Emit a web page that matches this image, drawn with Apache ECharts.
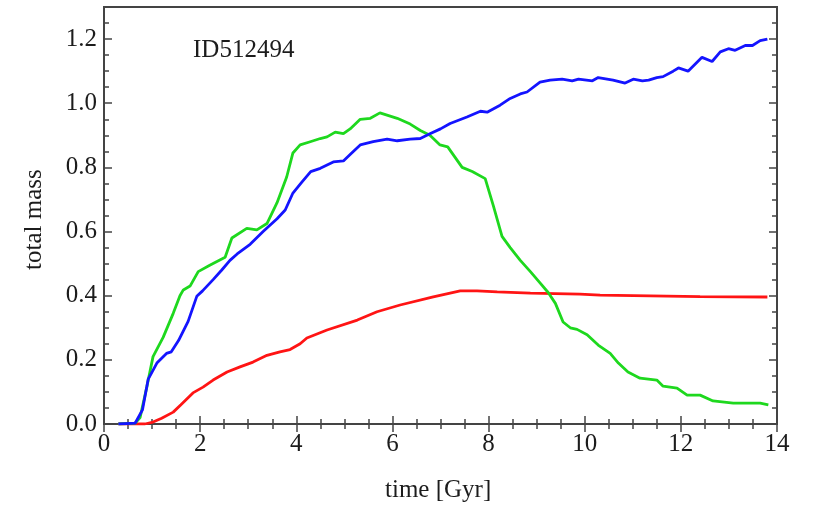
<!DOCTYPE html>
<html>
<head>
<meta charset="utf-8">
<script src="https://cdn.jsdelivr.net/npm/echarts@6/dist/echarts.min.js"></script>
<style>html,body{margin:0;padding:0;background:#fff}#c{width:818px;height:515px}</style>
</head>
<body>
<div id="c"></div>
<script>
// ---- data ----
const blueTime = [0.3,0.65,0.8,0.92,1.1,1.3,1.4,1.55,1.75,1.93,2.05,2.27,2.45,2.62,2.77,3.04,3.31,3.6,3.77,3.93,4.12,4.3,4.5,4.77,4.98,5.12,5.33,5.6,5.89,6.1,6.37,6.58,6.78,7.0,7.2,7.55,7.83,7.97,8.24,8.45,8.66,8.8,9.07,9.28,9.53,9.74,9.87,10.16,10.28,10.59,10.84,11.01,11.2,11.33,11.5,11.63,11.84,11.95,12.15,12.44,12.65,12.82,12.99,13.13,13.34,13.49,13.65,13.8];
const blueMass = [0,0.003,0.044,0.14,0.19,0.22,0.225,0.26,0.32,0.398,0.415,0.45,0.48,0.51,0.53,0.56,0.60,0.64,0.667,0.72,0.755,0.787,0.797,0.817,0.82,0.84,0.87,0.88,0.888,0.883,0.888,0.89,0.905,0.92,0.937,0.957,0.975,0.972,0.994,1.015,1.029,1.035,1.066,1.072,1.075,1.07,1.075,1.07,1.08,1.072,1.063,1.075,1.07,1.072,1.08,1.083,1.10,1.11,1.10,1.143,1.13,1.16,1.17,1.165,1.18,1.18,1.195,1.2];

const greenTime = [0.3,0.65,0.75,0.89,1.02,1.23,1.44,1.58,1.65,1.79,1.96,2.2,2.52,2.66,2.97,3.18,3.39,3.6,3.8,3.93,4.08,4.29,4.5,4.64,4.81,4.98,5.12,5.33,5.54,5.74,6.1,6.37,6.58,6.78,6.99,7.15,7.45,7.66,7.93,8.1,8.28,8.45,8.66,8.87,9.07,9.24,9.39,9.55,9.7,9.84,10.05,10.28,10.53,10.7,10.9,11.15,11.5,11.63,11.92,12.13,12.4,12.67,13.09,13.65,13.82];
const greenMass = [0,0.003,0.02,0.115,0.21,0.27,0.345,0.40,0.418,0.43,0.475,0.495,0.52,0.58,0.61,0.605,0.625,0.69,0.77,0.845,0.87,0.88,0.89,0.895,0.91,0.905,0.92,0.95,0.953,0.97,0.953,0.935,0.915,0.9,0.87,0.864,0.80,0.787,0.765,0.68,0.585,0.55,0.51,0.475,0.44,0.41,0.376,0.318,0.30,0.295,0.278,0.246,0.22,0.19,0.162,0.143,0.137,0.118,0.112,0.09,0.09,0.072,0.065,0.065,0.06];

const redTime = [0.3,0.85,1.02,1.2,1.44,1.6,1.85,2.06,2.27,2.56,2.83,3.1,3.39,3.66,3.87,4.08,4.22,4.64,5.27,5.68,6.16,6.85,7.41,7.76,8.18,8.87,9.9,10.32,12.4,13.8];
const redMass = [0,0,0.006,0.018,0.037,0.06,0.097,0.115,0.137,0.162,0.178,0.193,0.214,0.225,0.232,0.25,0.268,0.293,0.324,0.35,0.371,0.396,0.415,0.415,0.412,0.408,0.405,0.402,0.397,0.396];

const xMin = 0, xMax = 14, xStep = 2;
const yMin = 0, yMax = 1.3, yStep = 0.2, yMinorStep = 0.05;
const titleText = 'ID512494';
const xTitle = 'time [Gyr]';
const yTitle = 'total mass';

// ---- chart ----
const pair = (t, v) => t.map((x, i) => [x, v[i]]);
const FONT = 'Liberation Serif, Times New Roman, serif';
const TXT = '#1c1c1c';
const AX = '#444';

const chart = echarts.init(document.getElementById('c'), null, {renderer: 'canvas'});

function xAx(pos, labels) {
  return {
    type: 'value', position: pos, min: xMin, max: xMax, interval: xStep,
    axisLine: {show: false},
    axisTick: {show: true, inside: true, length: 8, lineStyle: {color: AX, width: 1.5}},
    minorTick: {show: true, splitNumber: 4, length: 5, lineStyle: {color: AX, width: 1.5}},
    splitLine: {show: false},
    axisLabel: {show: labels, margin: 8, fontFamily: FONT, fontSize: 25, color: TXT},
    axisPointer: {show: false}
  };
}
function yAx(pos, step, len, labels) {
  return {
    type: 'value', position: pos, offset: 0, min: yMin, max: yMax, interval: step,
    axisLine: {show: false},
    axisTick: {show: true, inside: true, length: len, lineStyle: {color: AX, width: 1.5}},
    splitLine: {show: false},
    axisLabel: {show: labels, showMaxLabel: false, margin: 7, fontFamily: FONT, fontSize: 25, color: TXT,
      formatter: v => v.toFixed(1)}
  };
}

chart.setOption({
  animation: false,
  backgroundColor: '#fff',
  grid: {left: 104, right: 41, top: 7, bottom: 91, show: true, borderColor: AX, borderWidth: 2, backgroundColor: '#fff'},
  xAxis: [xAx('bottom', true), xAx('top', false)],
  yAxis: [
    yAx('left', yStep, 8, true),
    yAx('left', yMinorStep, 5, false),
    yAx('right', yStep, 8, false),
    yAx('right', yMinorStep, 5, false)
  ],
  series: [
    {type: 'line', data: pair(redTime, redMass), showSymbol: false, lineStyle: {color: '#ff1414', width: 2.8}, itemStyle: {color: '#ff1414'}},
    {type: 'line', data: pair(greenTime, greenMass), showSymbol: false, lineStyle: {color: '#1ed81e', width: 2.8}, itemStyle: {color: '#1ed81e'}},
    {type: 'line', data: pair(blueTime, blueMass), showSymbol: false, lineStyle: {color: '#1414ff', width: 2.8}, itemStyle: {color: '#1414ff'}}
  ],
  graphic: [
    {type: 'text', left: 193, top: 38, style: {text: titleText, font: '25px ' + FONT, fill: TXT}},
    {type: 'text', left: 385, top: 478, style: {text: xTitle, font: '25px ' + FONT, fill: TXT}},
    {type: 'text', x: 22, y: 270, rotation: Math.PI / 2, style: {text: yTitle, font: '25px ' + FONT, fill: TXT, textAlign: 'left', textVerticalAlign: 'top'}}
  ]
});
</script>
</body>
</html>
